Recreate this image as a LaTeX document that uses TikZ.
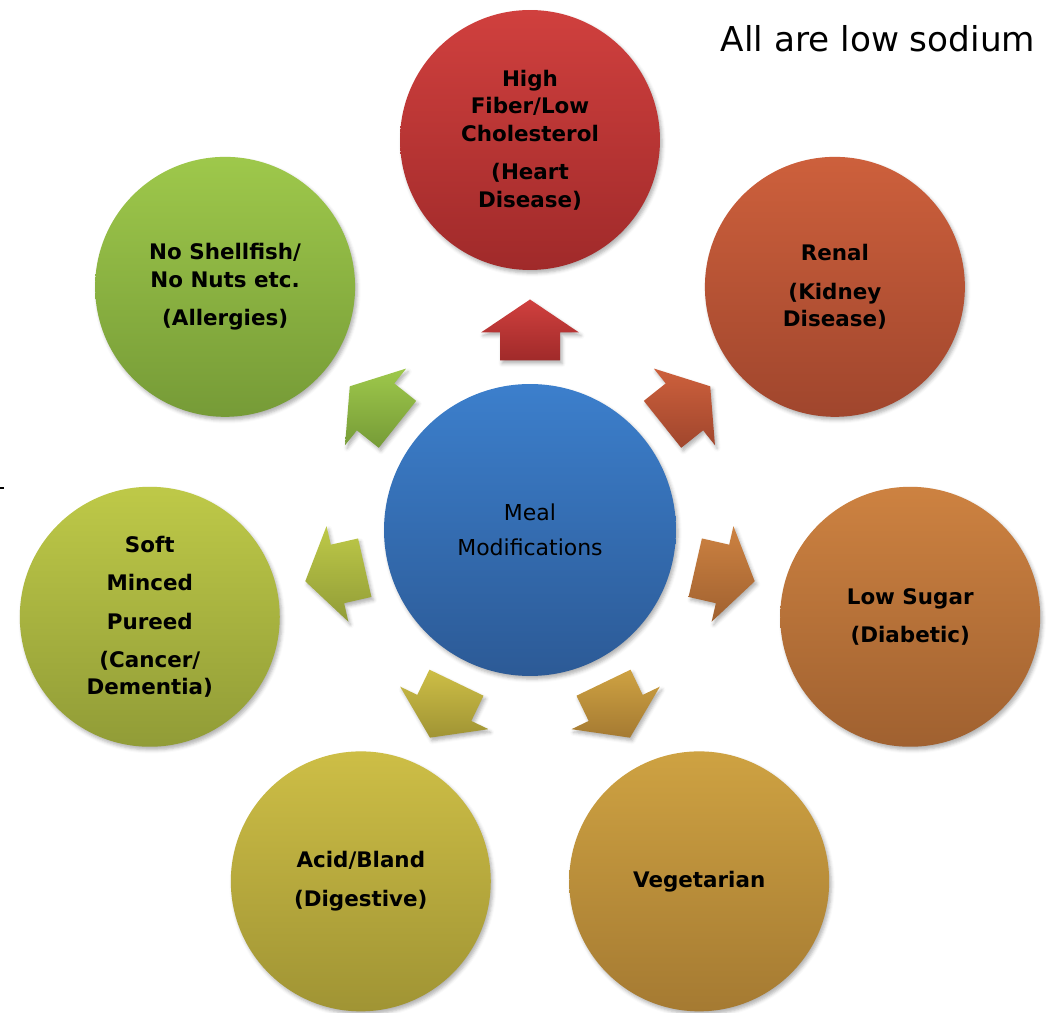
\documentclass[tikz,border=0pt]{standalone}
\usepackage{fontspec}
\setmainfont{DejaVu Sans}
\usepackage{tikz}
\usetikzlibrary{calc,positioning,shadows.blur}
% fill colours, light (top) to dark (bottom)
\definecolor{hubT}{RGB}{60,127,204}
\definecolor{hubB}{RGB}{44,90,150}
\definecolor{heartT}{RGB}{208,64,62}
\definecolor{heartB}{RGB}{160,42,42}
\definecolor{renalT}{RGB}{205,96,60}
\definecolor{renalB}{RGB}{160,70,45}
\definecolor{sugarT}{RGB}{205,130,65}
\definecolor{sugarB}{RGB}{160,97,48}
\definecolor{vegT}{RGB}{206,162,66}
\definecolor{vegB}{RGB}{165,122,50}
\definecolor{acidT}{RGB}{205,190,70}
\definecolor{acidB}{RGB}{160,148,52}
\definecolor{softT}{RGB}{190,201,72}
\definecolor{softB}{RGB}{145,156,55}
\definecolor{allergyT}{RGB}{158,200,75}
\definecolor{allergyB}{RGB}{118,155,55}

\begin{document}
\begin{tikzpicture}[x=0.02cm,y=0.02cm,
  shade/.style={blur shadow={shadow xshift=1.2pt,shadow yshift=-1.8pt,shadow blur radius=2pt,shadow opacity=30}},
  diet/.style={circle,minimum size=5.2cm,inner sep=0pt,align=center,shade,
    font=\fontsize{12.2}{15.6}\selectfont\bfseries},
  hubnode/.style={circle,minimum size=5.84cm,inner sep=0pt,align=center,shade,
    top color=hubT,bottom color=hubB,font=\fontsize{12.5}{20}\selectfont},
  heartfill/.style={top color=heartT,bottom color=heartB},
  renalfill/.style={top color=renalT,bottom color=renalB},
  sugarfill/.style={top color=sugarT,bottom color=sugarB},
  vegfill/.style={top color=vegT,bottom color=vegB},
  acidfill/.style={top color=acidT,bottom color=acidB},
  softfill/.style={top color=softT,bottom color=softB},
  allergyfill/.style={top color=allergyT,bottom color=allergyB}]
\useasboundingbox (-530,-483) rectangle (521,530);
% centre
\node[hubnode] (hub) at (0,0) {Meal\\Modifications};
% diets round the centre, 360/7 apart
\node[diet,heartfill] (heart) at (90:390) {High\\Fiber/Low\\Cholesterol\\[6.3pt](Heart\\Disease)};
\node[diet,renalfill] (renal) at (38.571:390) {Renal\\[6.3pt](Kidney\\Disease)};
\node[diet,sugarfill] (sugar) at (-12.857:390) {Low Sugar\\[6.3pt] (Diabetic)};
\node[diet,vegfill] (veg) at (-64.286:390) {Vegetarian};
\node[diet,acidfill] (acid) at (-115.714:390) {Acid/Bland\\[6.3pt] (Digestive)};
\node[diet,softfill] (soft) at (-167.143:390) {Soft\\[6.3pt]Minced\\[6.3pt]Pureed\\[6.3pt](Cancer/\\Dementia)};
\node[diet,allergyfill] (allergy) at (141.429:390) {No Shellfish/\\No Nuts etc.\\[6.3pt](Allergies)};
% block arrows from the centre
\foreach \a/\s in {90/heartfill,38.571/renalfill,-12.857/sugarfill,-64.286/vegfill,-115.714/acidfill,-167.143/softfill,141.429/allergyfill}{
  \begin{scope}[shift={(\a:200)},rotate=\a]
  \path[\s,shade] (-30.5,-30)--(-2.5,-30)--(-2.5,-49)--(30.5,0)--(-2.5,49)--(-2.5,30)--(-30.5,30)--cycle;
  \end{scope}}
% note
\node[font=\fontsize{19.5}{23}\selectfont,anchor=base] (note) at (348,478) {All are low sodium};
\coordinate (tickL) at (-530,42);
\coordinate (tickR) at (-526,42);
\draw[line width=1.2pt] (tickL)--(tickR);
\end{tikzpicture}
\end{document}
